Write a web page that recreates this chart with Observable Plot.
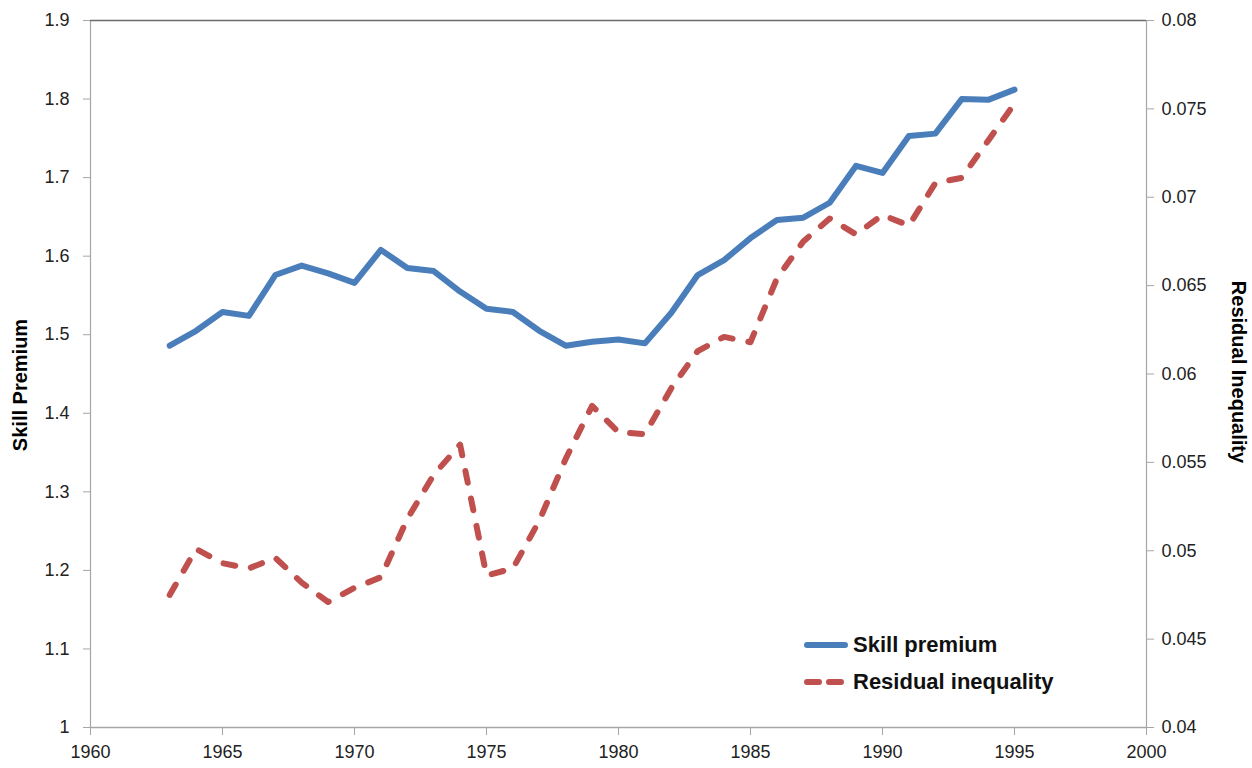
<!DOCTYPE html>
<html>
<head>
<meta charset="utf-8">
<script src="https://cdn.jsdelivr.net/npm/d3@7"></script>
<script src="https://cdn.jsdelivr.net/npm/@observablehq/plot@0.6"></script>
<style>
  html, body { margin: 0; padding: 0; background: #fff; }
  #wrap { position: relative; width: 1252px; height: 768px; overflow: hidden; }
  .ttl { position: absolute; font-family: "Liberation Sans Narrow", "Liberation Sans", Roboto, sans-serif; font-weight: bold; font-size: 20px; color: #000; white-space: nowrap; }
  #legend { position: absolute; left: 803px; top: 626px; font-family: "Liberation Sans Narrow", "Liberation Sans", sans-serif; font-weight: bold; font-size: 22px; color: #111; }
  #legend .row { display: flex; align-items: center; height: 37px; }
  #legend svg { margin-right: 4px; }
</style>
</head>
<body>
<div id="wrap"></div>
<script>
const years = [1963,1964,1965,1966,1967,1968,1969,1970,1971,1972,1973,1974,1975,1976,1977,1978,1979,1980,1981,1982,1983,1984,1985,1986,1987,1988,1989,1990,1991,1992,1993,1994,1995];
const skillPremium = [1.486,1.505,1.529,1.524,1.576,1.588,1.578,1.566,1.608,1.585,1.581,1.555,1.533,1.529,1.505,1.486,1.491,1.494,1.489,1.528,1.576,1.595,1.623,1.646,1.649,1.668,1.715,1.706,1.753,1.756,1.800,1.799,1.812];
const residualInequality = [0.0475,0.0501,0.0493,0.0490,0.0496,0.0482,0.0471,0.0479,0.0485,0.0518,0.0543,0.0560,0.0486,0.0490,0.0517,0.0552,0.0582,0.0567,0.0566,0.0592,0.0613,0.0621,0.0618,0.0654,0.0675,0.0688,0.0679,0.0690,0.0684,0.0708,0.0711,0.0732,0.0753];
const xTicks = [1960,1965,1970,1975,1980,1985,1990,1995,2000];
const leftTicks = [1,1.1,1.2,1.3,1.4,1.5,1.6,1.7,1.8,1.9];
const leftLabels = ["1","1.1","1.2","1.3","1.4","1.5","1.6","1.7","1.8","1.9"];
const rightTicks = [0.04,0.045,0.05,0.055,0.06,0.065,0.07,0.075,0.08];
const rightLabels = ["0.04","0.045","0.05","0.055","0.06","0.065","0.07","0.075","0.08"];
const seriesNames = ["Skill premium","Residual inequality"];
const leftTitle = "Skill Premium";
const rightTitle = "Residual Inequality";

// map right-axis values onto left-axis scale
const L0 = 1, L1 = 1.9, R0 = 0.04, R1 = 0.08;
const toLeft = v => L0 + (v - R0) / (R1 - R0) * (L1 - L0);

const blue = "#4a7ebb";
const red = "#c0504d";
const font = "'Liberation Sans Narrow', 'Liberation Sans', sans-serif";

const dataA = years.map((y, i) => ({year: y, v: skillPremium[i]}));
const dataB = years.map((y, i) => ({year: y, v: toLeft(residualInequality[i])}));

const chart = Plot.plot({
  width: 1252,
  height: 768,
  marginLeft: 90,
  marginRight: 106,
  marginTop: 20,
  marginBottom: 41,
  style: {fontFamily: font, fontSize: "18px", color: "#222", background: "#fff"},
  x: {domain: [1960, 2000]},
  y: {domain: [L0, L1]},
  marks: [
    Plot.ruleX([1960, 2000], {stroke: "#a6a6a6", strokeWidth: 1.2}),
    Plot.ruleY([L0], {stroke: "#a6a6a6", strokeWidth: 1.5}),
    Plot.ruleY([L1], {stroke: "#6b6b6b", strokeWidth: 1.5}),
    Plot.axisX({ticks: xTicks, tickFormat: d => String(d), tickSize: 8, tickPadding: 10, stroke: "#a6a6a6", label: null, fill: "#222"}),
    Plot.axisY({anchor: "left", ticks: leftTicks, tickFormat: (d, i) => leftLabels[i], tickSize: 7, tickPadding: 14, stroke: "#a6a6a6", label: null, fill: "#222"}),
    Plot.axisY({anchor: "right", ticks: rightTicks.map(toLeft), tickFormat: (d, i) => rightLabels[i], tickSize: 7, tickPadding: 8, stroke: "#a6a6a6", label: null, fill: "#222"}),
    Plot.line(dataB, {x: "year", y: "v", stroke: red, strokeWidth: 6, strokeDasharray: "12,16", strokeLinecap: "round", strokeLinejoin: "round"}),
    Plot.line(dataA, {x: "year", y: "v", stroke: blue, strokeWidth: 6, strokeLinecap: "round", strokeLinejoin: "round"})
  ]
});

const wrap = document.getElementById("wrap");
wrap.appendChild(chart);

// axis titles
const lt = document.createElement("div");
lt.className = "ttl";
lt.textContent = leftTitle;
lt.style.left = "20px";
lt.style.top = "385px";
lt.style.transform = "translate(-50%,-50%) rotate(-90deg)";
wrap.appendChild(lt);

const rt = document.createElement("div");
rt.className = "ttl";
rt.textContent = rightTitle;
rt.style.left = "1238px";
rt.style.top = "372px";
rt.style.transform = "translate(-50%,-50%) rotate(90deg)";
wrap.appendChild(rt);

// legend
const leg = document.createElement("div");
leg.id = "legend";
const styles = [{stroke: blue, dash: null}, {stroke: red, dash: "12,10"}];
seriesNames.forEach((name, i) => {
  const row = document.createElement("div");
  row.className = "row";
  const s = styles[i];
  row.innerHTML = `<svg width="46" height="12"><line x1="4" y1="6" x2="42" y2="6" stroke="${s.stroke}" stroke-width="6" stroke-linecap="round" ${s.dash ? `stroke-dasharray="${s.dash}"` : ""}/></svg><span>${name}</span>`;
  leg.appendChild(row);
});
wrap.appendChild(leg);
</script>
</body>
</html>
